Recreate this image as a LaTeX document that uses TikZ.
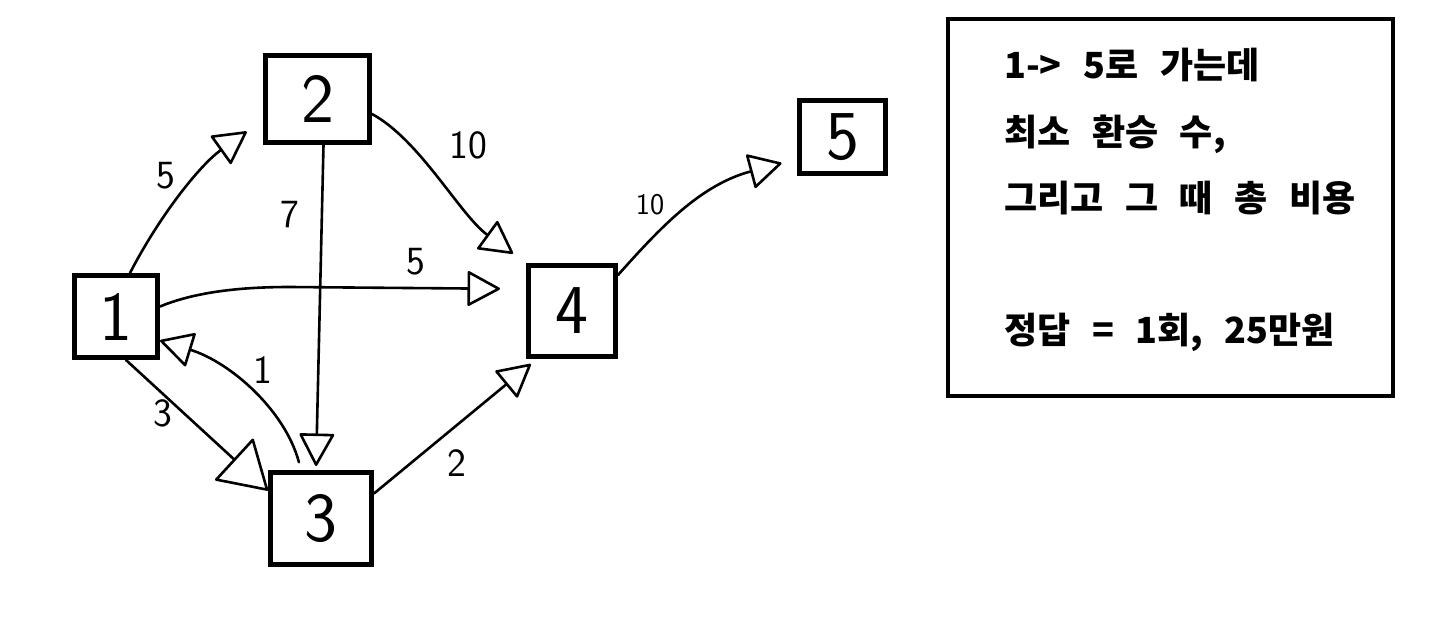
\documentclass[tikz,border=0pt]{standalone}
\usepackage{fontspec}
\newfontfamily\kr{Noto Sans CJK KR}
\usetikzlibrary{arrows.meta}
\newcommand\widespaces{\spaceskip=0.6em\relax}
\begin{document}
\begin{tikzpicture}[x=1pt,y=-1pt,
  stop/.style={draw,line width=5pt,inner sep=0pt,
    font=\sffamily\fontsize{70}{70}\selectfont},
  link/.style={line width=2.6pt,line join=round,line cap=round,
    -{Triangle[open,length=34pt,width=36pt,line join=round]}},
  wt/.style={inner sep=0pt,font=\sffamily\fontsize{40}{40}\selectfont},
  note/.style={anchor=base west,inner sep=0pt,
    font=\kr\bfseries\fontsize{36}{36}\selectfont\widespaces}]
\useasboundingbox (0,0) rectangle (1448,623);

% stations
\node[stop,minimum width=83pt,minimum height=82pt]  (b1) at (116,316.5) {1};
\node[stop,minimum width=104pt,minimum height=87pt] (b2) at (317.5,99) {2};
\node[stop,minimum width=101pt,minimum height=92pt] (b3) at (321,518.5) {3};
\node[stop,minimum width=87pt,minimum height=91pt]  (b4) at (572,311) {4};
\node[stop,minimum width=86pt,minimum height=73pt]  (b5) at (842.5,137) {5};

% routes with their costs
\draw[link,shorten >=20pt] ([xshift=14pt]b1.north)
  .. controls (160,215) and (200,165) .. ([yshift=25pt]b2.south west);
\node[wt] (w12) at (166,176) {5};

\draw[link,shorten >=16pt] ([yshift=-15pt]b2.east)
  .. controls (420,140) and (460,215) .. (b4.north west);
\node[wt] (w24) at (468,145) {10};

\draw[link,shorten >=4pt] ([xshift=6pt]b2.south) -- ([xshift=-5pt]b3.north);
\node[wt] (w23) at (290,215) {7};

\draw[link,shorten >=26pt] ([yshift=10pt]b1.east)
  .. controls (200,290) and (250,287) .. (290,287) -- ([yshift=22pt]b4.west);
\node[wt] (w14) at (416,262) {5};

\draw[link,shorten <=8pt] ([xshift=-20pt]b3.north)
  .. controls (285,410) and (230,362) .. ([yshift=-24pt]b1.east);
\node[wt] (w31) at (263,370) {1};

\draw[link,-{Triangle[open,length=48pt,width=58pt,line join=round]}]
  ([xshift=10pt]b1.south) -- ([yshift=28pt]b3.west);
\node[wt] (w13) at (163,413) {3};

\draw[link,shorten >=8pt] ([yshift=25pt]b3.east) -- ([xshift=-35pt]b4.south);
\node[wt] (w34) at (457,463) {2};

\draw[link,shorten >=16pt] ([yshift=36pt]b4.east)
  .. controls (660,228) and (700,185) .. ([yshift=-22pt]b5.west);
\node[wt,font=\sffamily\fontsize{30}{30}\selectfont] (w45) at (650,205) {10};

% question and answer
\node[draw,line width=4pt,minimum width=445pt,minimum height=377pt] (q) at (1170.5,207.5) {};
\node[note] (q1) at (1004,79)  {1-> 5로 가는데};
\node[note] (q2) at (1004,146) {최소 환승 수,};
\node[note] (q3) at (1004,211) {그리고 그 때 총 비용};
\node[note] (q4) at (1004,343) {정답 = 1회, 25만원};
\end{tikzpicture}
\end{document}
